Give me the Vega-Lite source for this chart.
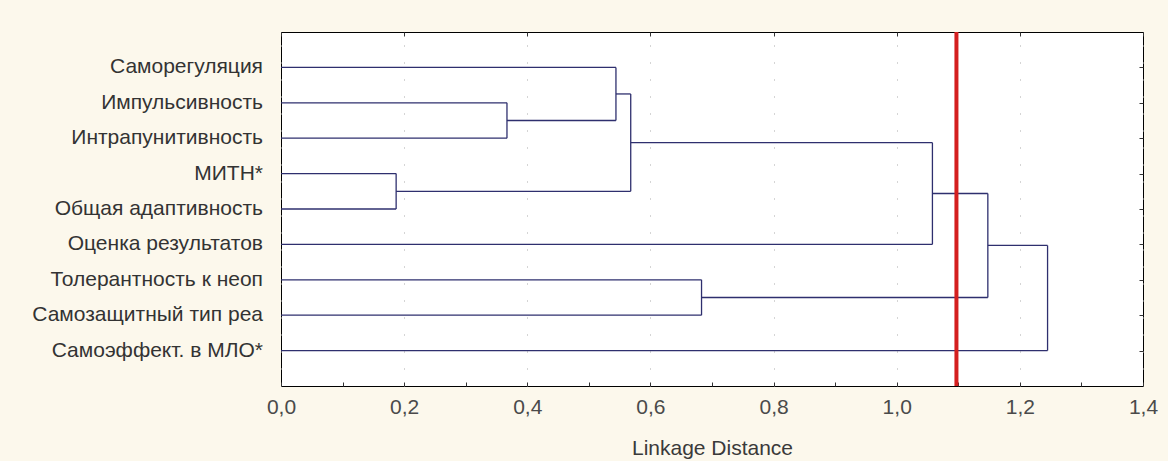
{
  "$schema": "https://vega.github.io/schema/vega-lite/v6.json",
  "autosize": "none",
  "width": 862,
  "height": 354,
  "padding": {"left": 281, "top": 32, "right": 25, "bottom": 75},
  "background": "#FCF8EC",
  "config": {
    "view": {"fill": "white", "stroke": "#000000", "strokeWidth": 1},
    "font": "Liberation Sans"
  },
  "datasets": {
    "segments": [
      {"x": 0, "x2": 0.544, "y": 1, "y2": 1},
      {"x": 0, "x2": 0.367, "y": 2, "y2": 2},
      {"x": 0, "x2": 0.367, "y": 3, "y2": 3},
      {"x": 0, "x2": 0.187, "y": 4, "y2": 4},
      {"x": 0, "x2": 0.187, "y": 5, "y2": 5},
      {"x": 0, "x2": 1.058, "y": 6, "y2": 6},
      {"x": 0, "x2": 0.683, "y": 7, "y2": 7},
      {"x": 0, "x2": 0.683, "y": 8, "y2": 8},
      {"x": 0, "x2": 1.245, "y": 9, "y2": 9},
      {"x": 0.367, "x2": 0.367, "y": 2, "y2": 3},
      {"x": 0.367, "x2": 0.544, "y": 2.5, "y2": 2.5},
      {"x": 0.544, "x2": 0.544, "y": 1, "y2": 2.5},
      {"x": 0.544, "x2": 0.568, "y": 1.75, "y2": 1.75},
      {"x": 0.187, "x2": 0.187, "y": 4, "y2": 5},
      {"x": 0.187, "x2": 0.568, "y": 4.5, "y2": 4.5},
      {"x": 0.568, "x2": 0.568, "y": 1.75, "y2": 4.5},
      {"x": 0.568, "x2": 1.058, "y": 3.125, "y2": 3.125},
      {"x": 1.058, "x2": 1.058, "y": 3.125, "y2": 6},
      {"x": 1.058, "x2": 1.148, "y": 4.5625, "y2": 4.5625},
      {"x": 0.683, "x2": 0.683, "y": 7, "y2": 8},
      {"x": 0.683, "x2": 1.148, "y": 7.5, "y2": 7.5},
      {"x": 1.148, "x2": 1.148, "y": 4.5625, "y2": 7.5},
      {"x": 1.148, "x2": 1.245, "y": 6.03, "y2": 6.03},
      {"x": 1.245, "x2": 1.245, "y": 6.03, "y2": 9}
    ],
    "labels": [
      {"row": 1, "name": "Саморегуляция"},
      {"row": 2, "name": "Импульсивность"},
      {"row": 3, "name": "Интрапунитивность"},
      {"row": 4, "name": "МИТН*"},
      {"row": 5, "name": "Общая адаптивность"},
      {"row": 6, "name": "Оценка результатов"},
      {"row": 7, "name": "Толерантность к неоп"},
      {"row": 8, "name": "Самозащитный тип реа"},
      {"row": 9, "name": "Самоэффект. в МЛО*"}
    ],
    "cut": [{"x": 1.097}]
  },
  "layer": [
    {
      "data": {"name": "segments"},
      "mark": {"type": "rule", "color": "#2E2F6E", "strokeWidth": 1.3},
      "encoding": {
        "x": {
          "field": "x", "type": "quantitative",
          "scale": {"domain": [0, 1.4], "nice": false, "zero": false},
          "axis": {
            "orient": "bottom",
            "values": [0, 0.1, 0.2, 0.3, 0.4, 0.5, 0.6, 0.7, 0.8, 0.9, 1.0, 1.1, 1.2, 1.3, 1.4],
            "labelExpr": "round(datum.value*10) % 2 === 0 ? replace(format(datum.value, '.1f'), '.', ',') : ''",
            "title": "Linkage Distance",
            "titleFont": "Liberation Sans",
            "titleFontSize": 21,
            "titleFontWeight": "normal",
            "titleColor": "#3A3A3A",
            "titlePadding": 20,
            "labelFont": "Liberation Sans",
            "labelFontSize": 21,
            "labelColor": "#4A4A4A",
            "labelPadding": 14,
            "labelFlush": false,
            "labelOverlap": false,
            "domain": false,
            "tickSize": -4,
            "tickColor": "#333333",
            "grid": true,
            "gridColor": "#AAAAAA",
            "gridDash": [1, 16],
            "gridOpacity": {"condition": {"test": "round(datum.value*10) % 2 === 0", "value": 1}, "value": 0}
          }
        },
        "x2": {"field": "x2"},
        "y": {
          "field": "y", "type": "quantitative",
          "scale": {"domain": [0, 10], "reverse": true, "nice": false, "zero": false},
          "axis": {
            "orient": "right",
            "values": [1, 2, 3, 4, 5, 6, 7, 8, 9],
            "labels": false,
            "domain": false,
            "grid": false,
            "title": null,
            "tickSize": -4,
            "tickColor": "#333333"
          }
        },
        "y2": {"field": "y2"}
      }
    },
    {
      "data": {"name": "cut"},
      "mark": {"type": "rule", "color": "#D41F1F", "strokeWidth": 4},
      "encoding": {
        "x": {
          "field": "x", "type": "quantitative",
          "axis": {
            "orient": "top",
            "values": [0, 0.2, 0.4, 0.6, 0.8, 1.0, 1.2, 1.4],
            "labels": false,
            "domain": false,
            "grid": false,
            "title": null,
            "tickSize": -4,
            "tickColor": "#333333"
          }
        }
      }
    },
    {
      "data": {"name": "labels"},
      "mark": {"type": "text", "align": "right", "baseline": "middle", "dx": -18, "font": "Liberation Sans", "fontSize": 21, "color": "#333333"},
      "encoding": {
        "x": {"datum": 0, "type": "quantitative", "axis": null},
        "y": {"field": "row", "type": "quantitative", "axis": null},
        "text": {"field": "name"}
      }
    }
  ],
  "resolve": {"axis": {"x": "independent", "y": "independent"}}
}
